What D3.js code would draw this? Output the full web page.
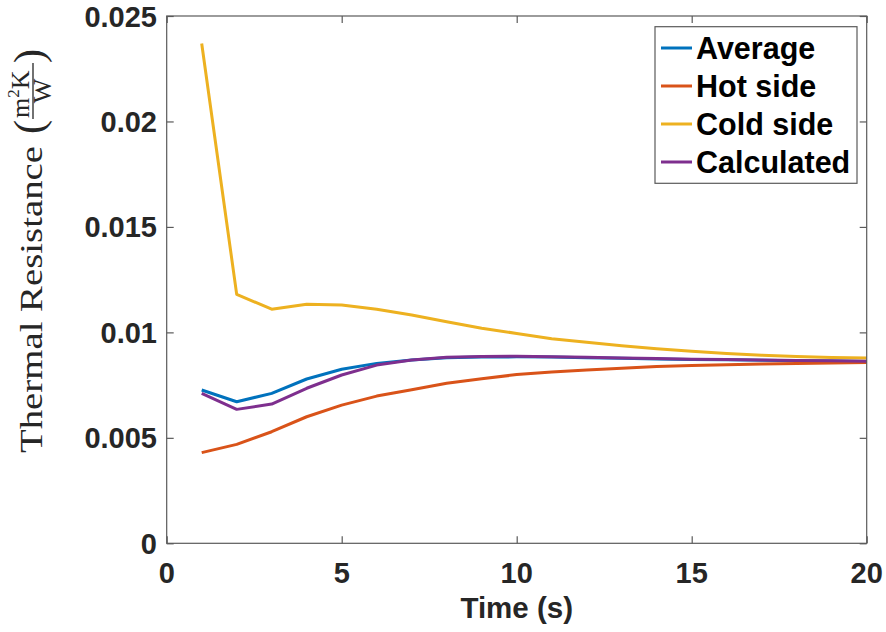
<!DOCTYPE html>
<html>
<head>
<meta charset="utf-8">
<script src="https://cdn.jsdelivr.net/npm/d3@7"></script>
<style>
  body { margin: 0; background: #fff; }
  svg { display: block; }
</style>
</head>
<body>
<svg id="chart" width="886" height="632"></svg>
<script>
const time = [1,2,3,4,5,6,7,8,9,10,11,12,13,14,15,16,17,18,19,20];
const average    = [0.00727,0.00671,0.00711,0.00779,0.00825,0.00853,0.00869,0.00880,0.00883,0.00884,0.00883,0.00880,0.00877,0.00874,0.00872,0.00870,0.00868,0.00866,0.00864,0.00862];
const hotSide    = [0.00430,0.00469,0.00529,0.00600,0.00655,0.00698,0.00728,0.00759,0.00780,0.00800,0.00812,0.00822,0.00830,0.00838,0.00843,0.00847,0.00850,0.00853,0.00855,0.00857];
const coldSide   = [0.02370,0.01180,0.01110,0.01133,0.01130,0.01110,0.01082,0.01050,0.01020,0.00995,0.00970,0.00953,0.00937,0.00922,0.00910,0.00900,0.00892,0.00886,0.00881,0.00878];
const calculated = [0.00711,0.00635,0.00660,0.00735,0.00798,0.00845,0.00869,0.00882,0.00886,0.00887,0.00885,0.00882,0.00879,0.00876,0.00873,0.00871,0.00869,0.00867,0.00865,0.00863];
const seriesNames = ["Average","Hot side","Cold side","Calculated"];
const seriesColors = ["#0072BD","#D95319","#EDB120","#7E2F8E"];
const xTicks = [0,5,10,15,20];
const yTicks = [0,0.005,0.01,0.015,0.02,0.025];
const yTickLabels = ["0","0.005","0.01","0.015","0.02","0.025"];

const seriesData = [average, hotSide, coldSide, calculated];

const svg = d3.select("#chart");
const L = 166.7, R = 866.7, T = 16, B = 543.3;
const x = d3.scaleLinear().domain([0,20]).range([L,R]);
const y = d3.scaleLinear().domain([0,0.025]).range([B,T]);
const axisColor = "#5a5a5a";
const tickFont = "'Liberation Sans', Arial, sans-serif";

// lines
const line = d3.line().x((d,i)=>x(time[i])).y(d=>y(d));
[0,1,2,3].forEach(k => {
  svg.append("path").datum(seriesData[k])
    .attr("d", line).attr("fill","none")
    .attr("stroke", seriesColors[k]).attr("stroke-width", 3)
    .attr("stroke-linejoin","round");
});

// box
svg.append("rect").attr("x",L).attr("y",T).attr("width",R-L).attr("height",B-T)
  .attr("fill","none").attr("stroke",axisColor).attr("stroke-width",1.2);

// axes (inward ticks)
const xAxisB = d3.axisBottom(x).tickValues(xTicks).tickSizeInner(-7).tickSizeOuter(0).tickFormat("");
const xAxisT = d3.axisTop(x).tickValues(xTicks).tickSizeInner(-7).tickSizeOuter(0).tickFormat("");
const yAxisL = d3.axisLeft(y).tickValues(yTicks).tickSizeInner(-7).tickSizeOuter(0).tickFormat("");
const yAxisR = d3.axisRight(y).tickValues(yTicks).tickSizeInner(-7).tickSizeOuter(0).tickFormat("");
[[xAxisB,`translate(0,${B})`],[xAxisT,`translate(0,${T})`],[yAxisL,`translate(${L},0)`],[yAxisR,`translate(${R},0)`]].forEach(([ax,tr])=>{
  const g = svg.append("g").attr("transform",tr).call(ax);
  g.select(".domain").remove();
  g.selectAll("line").attr("stroke",axisColor).attr("stroke-width",1.2);
});

// tick labels
svg.append("g").selectAll("text").data(xTicks).join("text")
  .attr("x", d=>x(d)).attr("y", 583)
  .attr("text-anchor","middle")
  .attr("font-family",tickFont).attr("font-weight","bold").attr("font-size",29)
  .attr("fill","#262626").text(d=>d);
svg.append("g").selectAll("text").data(yTicks).join("text")
  .attr("x", 157).attr("y", d=>y(d)+10.5)
  .attr("text-anchor","end")
  .attr("font-family",tickFont).attr("font-weight","bold").attr("font-size",29)
  .attr("fill","#262626").text((d,i)=>yTickLabels[i]);

// x label
svg.append("text").attr("x", x(10)).attr("y", 618)
  .attr("text-anchor","middle")
  .attr("font-family",tickFont).attr("font-weight","bold").attr("font-size",29.5)
  .attr("fill","#262626").text("Time (s)");

// y label (rotated, serif, with fraction)
const serifF = "'Liberation Serif', serif";
const yl = svg.append("g").attr("transform","translate(42,453) rotate(-90)").attr("fill","#262626");
yl.append("text").attr("x",0).attr("y",0)
  .attr("font-family",serifF).attr("font-size",32)
  .attr("textLength",307).attr("lengthAdjust","spacingAndGlyphs")
  .text("Thermal Resistance");
yl.append("text").attr("x",319).attr("y",1)
  .attr("font-family",serifF).attr("font-size",42)
  .text("(");
const num = yl.append("text").attr("x",335).attr("y",-13)
  .attr("font-family",serifF).attr("font-size",26);
num.append("tspan").text("m");
num.append("tspan").attr("dy",-10).attr("font-size",17).text("2");
num.append("tspan").attr("dy",10).attr("font-size",26).text("K");
yl.append("line").attr("x1",334).attr("x2",390).attr("y1",-9).attr("y2",-9)
  .attr("stroke","#262626").attr("stroke-width",1.3);
yl.append("text").attr("x",362).attr("y",9).attr("text-anchor","middle")
  .attr("font-family",serifF).attr("font-size",26)
  .text("W");
yl.append("text").attr("x",390).attr("y",1)
  .attr("font-family",serifF).attr("font-size",42)
  .text(")");

// legend
const lg = svg.append("g");
lg.append("rect").attr("x",655).attr("y",26.7).attr("width",202).attr("height",156.6)
  .attr("fill","#fff").attr("stroke",axisColor).attr("stroke-width",1.2);
seriesNames.forEach((name,i)=>{
  const cy = 48 + i*38;
  lg.append("line").attr("x1",661).attr("x2",692).attr("y1",cy).attr("y2",cy)
    .attr("stroke",seriesColors[i]).attr("stroke-width",3);
  lg.append("text").attr("x",696).attr("y",cy+11)
    .attr("font-family",tickFont).attr("font-weight","bold").attr("font-size",30.5)
    .attr("fill","#000").text(name);
});
</script>
</body>
</html>
